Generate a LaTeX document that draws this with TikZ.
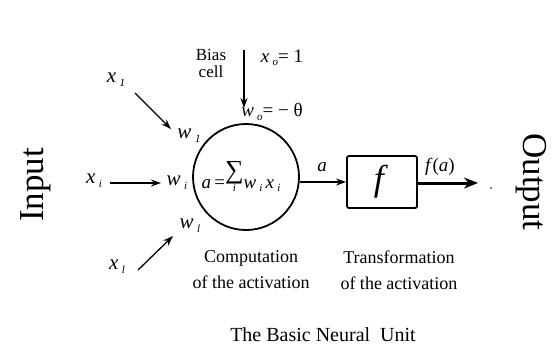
\documentclass[tikz,border=0pt]{standalone}
\usepackage{fontspec}
\setmainfont{Liberation Serif}
\usetikzlibrary{arrows.meta}
\newcommand\lowsub[1]{\raisebox{-0.4ex}{\fontsize{11}{11}\selectfont\textit{#1}}}
\newcommand\ivar[2]{\textit{#1}\,\lowsub{#2}}
\tikzset{
  lbl/.style={inner sep=0pt, font=\fontsize{21}{22}\selectfont},
  captext/.style={inner sep=0pt, align=center, font=\fontsize{18}{26}\selectfont},
  inarrow/.style={line width=1.3pt, -{Stealth[length=10pt,width=7pt]}},
  bigword/.style={inner sep=0pt, font=\fontsize{35}{40}\selectfont}
}
\begin{document}
\begin{tikzpicture}[x=1pt,y=-1pt]
\useasboundingbox (0,0) rectangle (555,349);
% main shapes
\node[circle, draw, line width=1.8pt, minimum size=106pt, inner sep=0pt] (sum) at (246,177) {};
\node[lbl, anchor=base, font=\fontsize{19}{20}\selectfont] (formula) at (241,188) {\textit{a}\,=\raisebox{-0.05ex}{\begin{tabular}[b]{@{}c@{}}\fontsize{26}{26}\selectfont ∑\\[-10pt]\lowsub{i}\end{tabular}}\ivar{w}{i}\,\ivar{x}{i}};
\node[draw, line width=1.8pt, rounded corners=2pt, minimum width=70pt, minimum height=52pt, inner sep=0pt] (fbox) at (382,182) {};
\node[inner sep=0pt, font=\fontsize{36}{38}\selectfont] (flabel) at (381,182) {\textit{f}};
% side words
\node[bigword, rotate=90] (input) at (36,185) {Input};
\node[bigword, rotate=-90] (output) at (531,182) {Output};
% bias
\node[captext, font=\fontsize{17}{17}\selectfont] (bias) at (211,63) {Bias\\cell};
\coordinate (btop) at (244,50);
\coordinate (bbot) at (244,108);
\draw[inarrow] (btop) -- (bbot);
\node[lbl, font=\fontsize{19}{20}\selectfont] (x0) at (282,58) {\ivar{x}{o}= 1};
\node[lbl, font=\fontsize{19}{20}\selectfont] (w0) at (272,112) {\ivar{w}{o}= − θ};
% inputs
\node[lbl] (x1) at (116,80) {\ivar{x}{1}};
\node[lbl] (w1) at (189,136) {\ivar{w}{1}};
\coordinate (a1s) at (135,93);
\coordinate (a1e) at (171,129);
\draw[inarrow] (a1s) -- (a1e);
\node[lbl] (xi) at (94,181) {\ivar{x}{i}};
\node[lbl] (wi) at (177,183) {\ivar{w}{i}};
\coordinate (ais) at (110,183);
\coordinate (aie) at (161,183);
\draw[inarrow] (ais) -- (aie);
\node[lbl] (wl) at (190,226) {\ivar{w}{l}};
\node[lbl] (xl) at (117,267) {\ivar{x}{l}};
\coordinate (als) at (138,270);
\coordinate (ale) at (173,236);
\draw[inarrow] (als) -- (ale);
% activation
\draw[inarrow] (sum.east |- 0,182) -- (fbox.west);
\node[lbl, font=\fontsize{19}{20}\selectfont] (alabel) at (322,167) {\textit{a}};
% output
\coordinate (outend) at (478,183);
\draw[line width=3pt, -{Stealth[length=14pt,width=11pt]}] (fbox.east |- outend) -- (outend);
\node[lbl, font=\fontsize{19}{20}\selectfont] (fa) at (440,167) {\textit{f}(\textit{a})};
\fill (491,188) circle (0.9pt);
% captions
\node[captext] (comp) at (251,270) {Computation\\of the activation};
\node[captext] (trans) at (399,270) {Transformation\\of the activation};
\node[captext, font=\fontsize{20}{22}\selectfont] (title) at (323,335) {The Basic Neural\ \ Unit};
\end{tikzpicture}
\end{document}
